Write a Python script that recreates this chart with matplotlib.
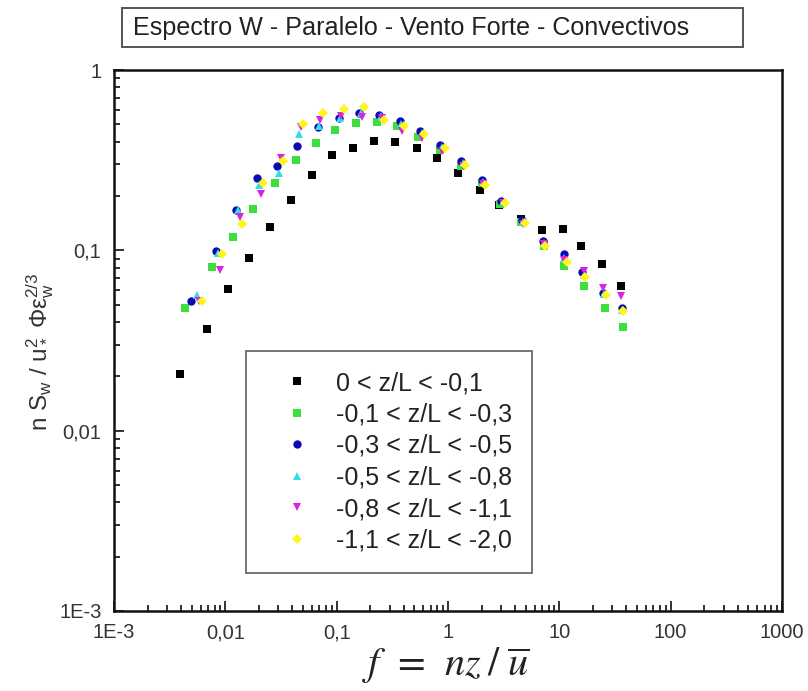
import matplotlib
matplotlib.use("Agg")
import matplotlib.pyplot as plt
from matplotlib.patches import Rectangle
from matplotlib.ticker import LogLocator, FixedLocator, FixedFormatter, NullFormatter

plt.rcParams['font.family'] = ['Liberation Sans', 'DejaVu Sans']
plt.rcParams['mathtext.fontset'] = 'custom'
plt.rcParams['mathtext.rm'] = 'Liberation Sans'
plt.rcParams['mathtext.it'] = 'Liberation Sans:italic'

# Normalised vertical-velocity spectra, one series per stability class
labels = ["0 < z/L < -0,1", "-0,1 < z/L < -0,3", "-0,3 < z/L < -0,5",
          "-0,5 < z/L < -0,8", "-0,8 < z/L < -1,1", "-1,1 < z/L < -2,0"]

f_c1 = [0.00392, 0.00686, 0.0106, 0.01637, 0.02528, 0.0391, 0.0603, 0.0913, 0.141, 0.218, 0.336,
        0.531, 0.803, 1.24, 1.92, 2.90, 4.48, 6.92, 10.7, 15.8, 24.0, 35.5]
s_c1 = [0.0207, 0.0367, 0.0612, 0.0909, 0.135, 0.1905, 0.262, 0.338, 0.370, 0.404, 0.399,
        0.370, 0.325, 0.269, 0.216, 0.179, 0.1494, 0.1299, 0.1316, 0.1059, 0.0842, 0.0636]

f_c2 = [0.00435, 0.00761, 0.01175, 0.01778, 0.0280, 0.0433, 0.0655, 0.0971, 0.150, 0.232, 0.351,
        0.542, 0.854, 1.32, 2.00, 2.96, 4.57, 7.21, 10.9, 16.5, 25.5, 37.0]
s_c2 = [0.0476, 0.0805, 0.118, 0.169, 0.235, 0.315, 0.393, 0.464, 0.507, 0.516, 0.490,
        0.427, 0.360, 0.295, 0.236, 0.181, 0.1438, 0.1059, 0.0820, 0.0636, 0.0480, 0.0377]

f_c3 = [0.00493, 0.00828, 0.01252, 0.01934, 0.0292, 0.0443, 0.0683, 0.1055, 0.160, 0.242, 0.373,
        0.565, 0.854, 1.32, 2.00, 3.02, 4.66, 7.06, 10.9, 16.1, 24.5, 36.2]
s_c3 = [0.0527, 0.0994, 0.168, 0.252, 0.292, 0.377, 0.481, 0.540, 0.575, 0.563, 0.522,
        0.459, 0.384, 0.313, 0.246, 0.188, 0.148, 0.113, 0.0956, 0.0760, 0.0581, 0.0480]

f_c4 = [0.00558, 0.00864, 0.01305, 0.02017, 0.0304, 0.0461, 0.0697, 0.1077, 0.167, 0.252, 0.381,
        0.589, 0.890, 1.37, 2.08, 3.15, 4.75, 7.21, 11.1, 16.5, 25.0, 36.2]
s_c4 = [0.0567, 0.0969, 0.168, 0.231, 0.269, 0.442, 0.490, 0.542, 0.575, 0.556, 0.502,
        0.448, 0.374, 0.305, 0.240, 0.186, 0.144, 0.110, 0.0909, 0.0731, 0.0574, 0.0468]

f_c5 = [0.00581, 0.00897, 0.0136, 0.02102, 0.0317, 0.0481, 0.0712, 0.1099, 0.170, 0.257, 0.389,
        0.589, 0.890, 1.37, 2.08, 3.15, 4.75, 7.21, 11.1, 16.5, 24.5, 35.5]
s_c5 = [0.0525, 0.0780, 0.153, 0.206, 0.325, 0.486, 0.528, 0.556, 0.549, 0.542, 0.459,
        0.420, 0.356, 0.294, 0.234, 0.183, 0.140, 0.109, 0.0886, 0.0770, 0.0620, 0.0560]

f_c6 = [0.00619, 0.00935, 0.01417, 0.02191, 0.0331, 0.0501, 0.0755, 0.1170, 0.177, 0.268, 0.405,
        0.614, 0.946, 1.43, 2.17, 3.28, 4.95, 7.51, 11.6, 17.1, 26.1, 37.0]
s_c6 = [0.0527, 0.0956, 0.140, 0.235, 0.314, 0.499, 0.574, 0.608, 0.624, 0.528, 0.490,
        0.442, 0.370, 0.298, 0.231, 0.183, 0.142, 0.106, 0.0864, 0.0713, 0.0567, 0.0462]

x_ticks = [1e-3, 1e-2, 1e-1, 1, 10, 100, 1000]
x_ticklabels = ["1E-3", "0,01", "0,1", "1", "10", "100", "1000"]
y_ticks = [1e-3, 1e-2, 1e-1, 1]
y_ticklabels = ["1E-3", "0,01", "0,1", "1"]

series = [
    (f_c1, s_c1, "s", "#000000", 5.2),
    (f_c2, s_c2, "s", "#3ddf3d", 5.2),
    (f_c3, s_c3, "o", "#0a0ab4", 6.0),
    (f_c4, s_c4, "^", "#33dde8", 6.4),
    (f_c5, s_c5, "v", "#dd22dd", 6.4),
    (f_c6, s_c6, "D", "#fff51a", 5.0),
]

W, H = 808, 691
fig = plt.figure(figsize=(W / 100, H / 100), dpi=100)
ax = fig.add_axes([114 / W, 1 - 611 / H, (782 - 114) / W, (611 - 70) / H])

for (fx, sy, mk, col, ms), lab in zip(series, labels):
    ax.plot(fx, sy, linestyle="none", marker=mk, color=col, markersize=ms,
            markeredgewidth=0, label=lab)

ax.set_xscale("log")
ax.set_yscale("log")
ax.set_xlim(1e-3, 1000)
ax.set_ylim(1e-3, 1)

ax.xaxis.set_major_locator(FixedLocator(x_ticks))
ax.xaxis.set_major_formatter(FixedFormatter(x_ticklabels))
ax.yaxis.set_major_locator(FixedLocator(y_ticks))
ax.yaxis.set_major_formatter(FixedFormatter(y_ticklabels))
ax.xaxis.set_minor_locator(LogLocator(base=10, subs=range(2, 10), numticks=20))
ax.yaxis.set_minor_locator(LogLocator(base=10, subs=range(2, 10), numticks=20))
ax.xaxis.set_minor_formatter(NullFormatter())
ax.yaxis.set_minor_formatter(NullFormatter())

ax.tick_params(which="both", direction="in", top=False, right=False, width=1.3, colors="#222222")
ax.tick_params(which="major", length=7, labelsize=14.5, pad=9, labelcolor="#333333")
ax.tick_params(which="minor", length=4)
for sp in ax.spines.values():
    sp.set_linewidth(1.8)
    sp.set_color("#111111")

leg = ax.legend(loc="upper left", bbox_to_anchor=((246 - 114) / 668, (611 - 351) / 541),
                borderaxespad=0, frameon=True, fancybox=False, fontsize=18,
                numpoints=1, markerscale=1.0, handlelength=2.5, handletextpad=0.3,
                borderpad=0.8, labelspacing=0.3)
leg.get_frame().set_edgecolor("#333333")
leg.get_frame().set_linewidth(1.2)
for t in leg.get_texts():
    t.set_color("#222222")

# axis titles
fig.text(446 / W, 1 - 666 / H, r"$f\;\,=\;\,nz\;/\;\overline{u}$", fontsize=29,
         math_fontfamily="stix", ha="center", va="center", color="#222222")
fig.text(40 / W, 1 - 352 / H,
         r"n S$_\mathregular{w}$ / u$_*^\mathregular{2}$ $\mathregular{\Phi\varepsilon_w^{2/3}}$",
         fontsize=17.5, rotation=90, ha="center", va="center", color="#333333")

# boxed heading
fig.patches.append(Rectangle((122 / W, 1 - 47 / H), (743 - 122) / W, (47 - 8) / H,
                             transform=fig.transFigure, fill=False,
                             edgecolor="#555555", linewidth=1.4))
fig.text(133 / W, 1 - 28 / H, "Espectro W - Paralelo - Vento Forte - Convectivos",
         fontsize=18.1, ha="left", va="center", color="#222222")

fig.savefig("out.png", dpi=100)
